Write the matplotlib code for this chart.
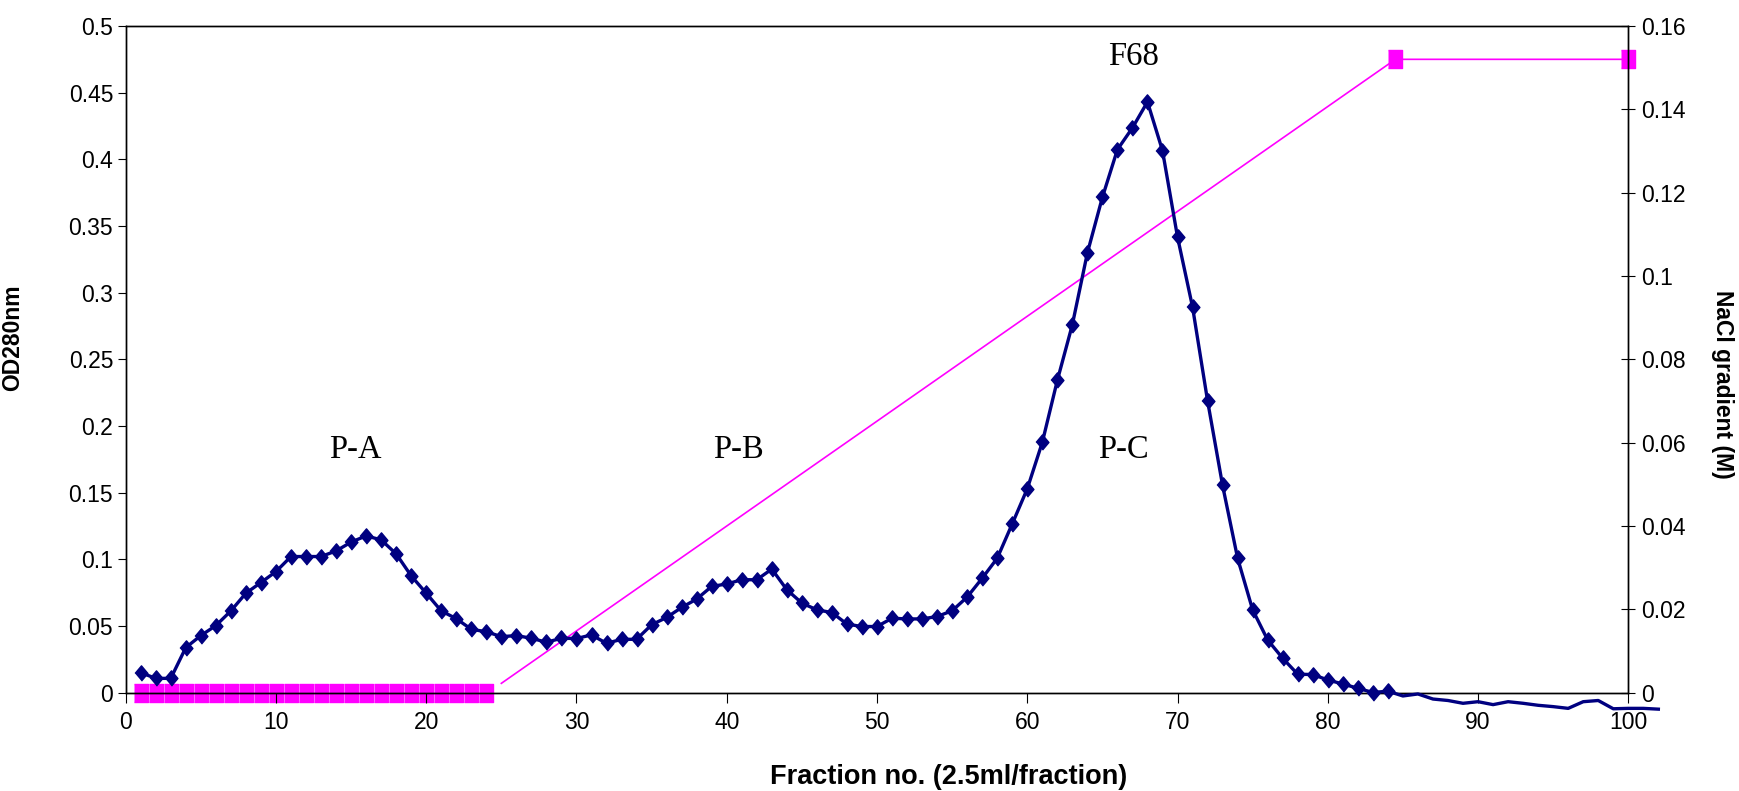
import numpy as np
import matplotlib.pyplot as plt

plt.rcParams['font.family'] = ['Liberation Sans', 'DejaVu Sans']

# OD280 readings, fractions 1..102 (markers only shown up to fraction 84)
fraction = list(range(1, 103))
od280 = [0.0149, 0.0106, 0.0106, 0.0337, 0.0427, 0.0502, 0.0612, 0.0745, 0.0825, 0.0907,
         0.102, 0.102, 0.102, 0.1062, 0.1128, 0.1175, 0.1145, 0.104, 0.0875, 0.0745,
         0.0612, 0.0554, 0.0474, 0.0456, 0.0419, 0.0427, 0.0407, 0.0377, 0.0407, 0.0405,
         0.0432, 0.0369, 0.0399, 0.0399, 0.0508, 0.0563, 0.0638, 0.0701, 0.0796, 0.0814,
         0.0846, 0.0846, 0.0926, 0.0771, 0.0671, 0.062, 0.06, 0.0513, 0.0495, 0.0495,
         0.0557, 0.0552, 0.0552, 0.057, 0.0613, 0.0716, 0.0857, 0.1007, 0.1265, 0.1528,
         0.1876, 0.2341, 0.2759, 0.3297, 0.3715, 0.4073, 0.4236, 0.4431, 0.4065, 0.3417,
         0.2892, 0.2188, 0.1553, 0.1007, 0.062, 0.0394, 0.0257, 0.0137, 0.0135, 0.0094,
         0.0064, 0.0032, 0.0, 0.001, -0.0026, -0.0011, -0.0049, -0.006, -0.0081, -0.0069,
         -0.0091, -0.0069, -0.0081, -0.0096, -0.0106, -0.0119, -0.0069, -0.006, -0.0122, -0.0119,
         -0.0119, -0.0125]
n_marked = 84

# NaCl gradient
wash_x = list(range(1, 25))
wash_y = [0.0] * len(wash_x)
grad_x = [25, 84.5, 100]
grad_y = [0.0022, 0.152, 0.152]

peak_labels = ['P-A', 'P-B', 'P-C', 'F68']
peak_x = [15.3, 40.8, 66.4, 67.1]
peak_y = [0.182, 0.182, 0.182, 0.477]

navy = '#000080'
magenta = '#FF00FF'
diamond = [(0, -0.5), (0.42, 0), (0, 0.5), (-0.42, 0)]
rect = [(-0.38, -0.5), (0.38, -0.5), (0.38, 0.5), (-0.38, 0.5)]

fig = plt.figure(figsize=(17.4, 7.91), dpi=100)
ax = fig.add_axes([125.7 / 1740, 1 - 692.5 / 791, 1502.6 / 1740, 666.5 / 791])
ax2 = ax.twinx()

ax.plot(fraction, od280, color=navy, lw=2.4, marker=diamond, ms=11,
        markevery=slice(0, n_marked), clip_on=False, zorder=3)

ax2.plot(wash_x, wash_y, ls='none', marker=rect, ms=12.5, color=magenta, clip_on=False)
ax2.plot(grad_x, grad_y, color=magenta, lw=1.2, marker=rect, ms=12.5,
         markevery=[1, 2], clip_on=False)

ax.set_zorder(ax2.get_zorder() + 1)
ax.patch.set_visible(False)

for lab, x, y in zip(peak_labels, peak_x, peak_y):
    ax.text(x, y, lab, ha='center', va='center', fontsize=23.5, family='Liberation Serif')

ax.set_xlim(0, 100)
ax.set_ylim(0, 0.5)
ax2.set_ylim(0, 0.16)
ax.set_xticks(np.arange(0, 101, 10))
ax.set_yticks(np.arange(0, 0.51, 0.05))
ax2.set_yticks(np.arange(0, 0.161, 0.02))
ax.set_yticklabels(['0', '0.05', '0.1', '0.15', '0.2', '0.25', '0.3', '0.35', '0.4', '0.45', '0.5'])
ax2.set_yticklabels(['0', '0.02', '0.04', '0.06', '0.08', '0.1', '0.12', '0.14', '0.16'])

ax.tick_params(axis='y', direction='out', length=6, labelsize=16.5, pad=3)
ax.tick_params(axis='x', direction='out', length=7, labelsize=16.5, pad=6)
ax2.tick_params(axis='y', direction='inout', length=10, labelsize=16.5, pad=4)

for a in (ax, ax2):
    for s in a.spines.values():
        s.set_linewidth(1.0)

ax.set_xlabel('Fraction no. (2.5ml/fraction)', fontsize=19.5, fontweight='bold')
ax.set_ylabel('OD280nm', fontsize=16.5, fontweight='bold')
ax2.set_ylabel('NaCl gradient (M)', fontsize=16.5, fontweight='bold', rotation=270, va='center')
ax.xaxis.set_label_coords(0.548, -0.108)
ax.yaxis.set_label_coords(-0.0674, 0.533)
ax2.yaxis.set_label_coords(1.063, 0.462)

fig.savefig('out.png', dpi=100)
